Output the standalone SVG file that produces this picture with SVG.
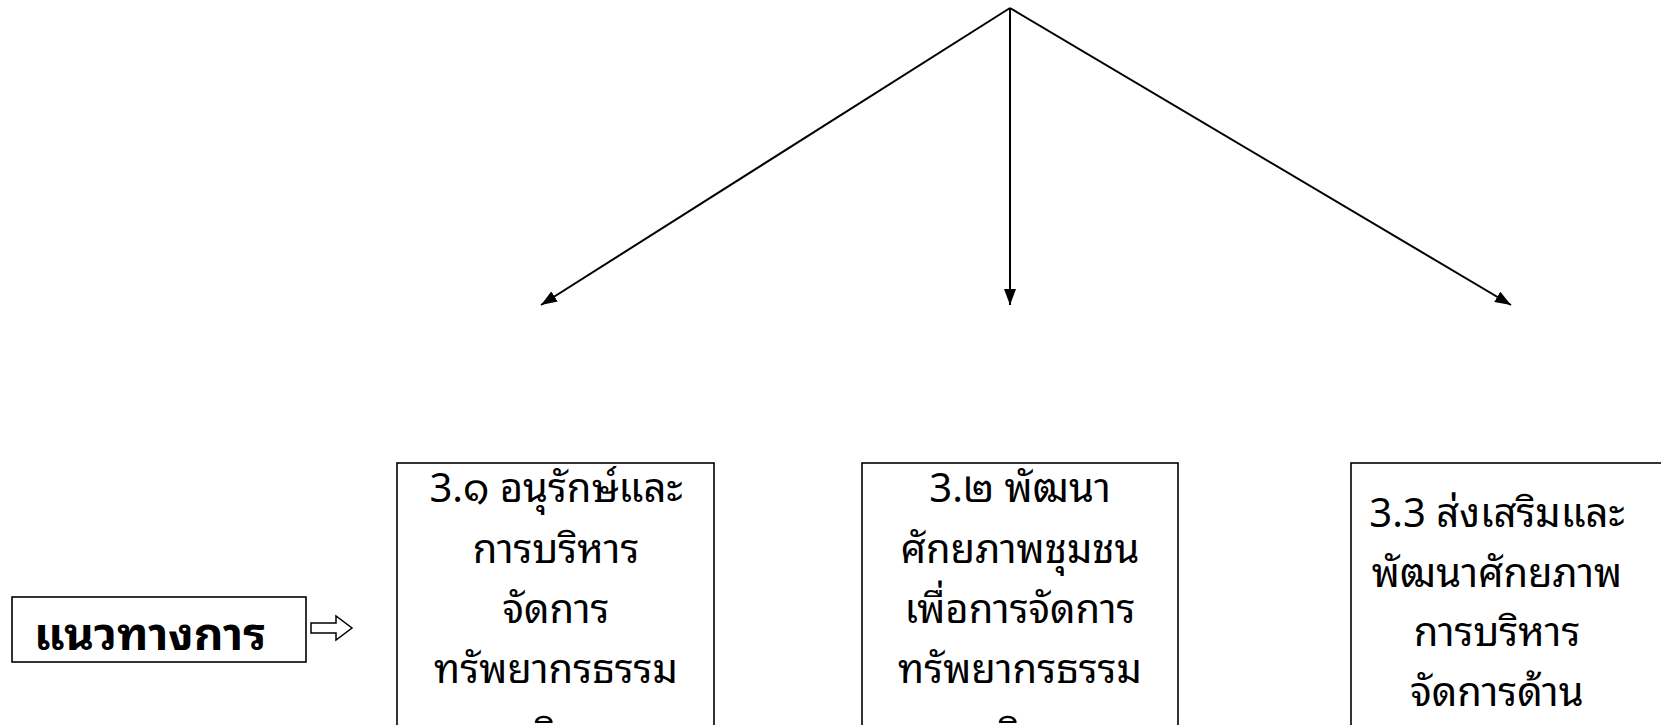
<svg xmlns="http://www.w3.org/2000/svg" width="1661" height="725" viewBox="0 0 1661 725">
<style>
.box{fill:#fff;stroke:#000;stroke-width:1.6}
.t{font-family:"Noto Sans Thai Looped","Loma","Garuda","Noto Sans Thai","Noto Sans","DejaVu Sans",sans-serif;font-size:40px;fill:#000;text-anchor:middle}
.lbl{font-family:"Noto Sans Thai Looped","Loma","Garuda","Noto Sans Thai","Noto Sans","DejaVu Sans",sans-serif;font-size:46px;font-weight:bold;fill:#000}
.conn{stroke:#000;stroke-width:2;fill:none}
</style>
<defs>
<marker id="ah" viewBox="0 0 16 12" refX="16" refY="6" markerWidth="16" markerHeight="12" markerUnits="userSpaceOnUse" orient="auto">
<path d="M0,0 L16,6 L0,12 z" fill="#000"/>
</marker>
</defs>
<rect width="1661" height="725" fill="#fff"/>
<g id="connectors">
<line class="conn" x1="1010" y1="8" x2="541" y2="305" marker-end="url(#ah)"/>
<line class="conn" x1="1010" y1="8" x2="1010" y2="305" marker-end="url(#ah)"/>
<line class="conn" x1="1010" y1="8" x2="1511" y2="305" marker-end="url(#ah)"/>
<polygon points="311,623 336,623 336,616 352,628 336,640 336,633 311,633" fill="#fff" stroke="#000" stroke-width="1.5"/>
</g>
<g id="label">
<rect class="box" x="12" y="597" width="294" height="65"/>
<text class="lbl" x="34" y="650">แนวทางการ</text>
</g>
<g id="box1">
<rect class="box" x="397" y="463" width="317" height="340"/>
<text class="t" x="556" y="502">3.๑ อนุรักษ์และ</text>
<text class="t" x="556" y="563">การบริหาร</text>
<text class="t" x="556" y="623">จัดการ</text>
<text class="t" x="556" y="683">ทรัพยากรธรรม</text>
<text class="t" x="556" y="749">ชาติและ</text>
</g>
<g id="box2">
<rect class="box" x="862" y="463" width="316" height="340"/>
<text class="t" x="1020" y="502">3.๒ พัฒนา</text>
<text class="t" x="1020" y="563">ศักยภาพชุมชน</text>
<text class="t" x="1020" y="623">เพื่อการจัดการ</text>
<text class="t" x="1020" y="683">ทรัพยากรธรรม</text>
<text class="t" x="1020" y="749">ชาติและ</text>
</g>
<g id="box3">
<rect class="box" x="1351" y="463" width="400" height="340"/>
<text class="t" x="1497" y="527">3.3 ส่งเสริมและ</text>
<text class="t" x="1497" y="587">พัฒนาศักยภาพ</text>
<text class="t" x="1497" y="646">การบริหาร</text>
<text class="t" x="1497" y="706">จัดการด้าน</text>
</g>
</svg>
